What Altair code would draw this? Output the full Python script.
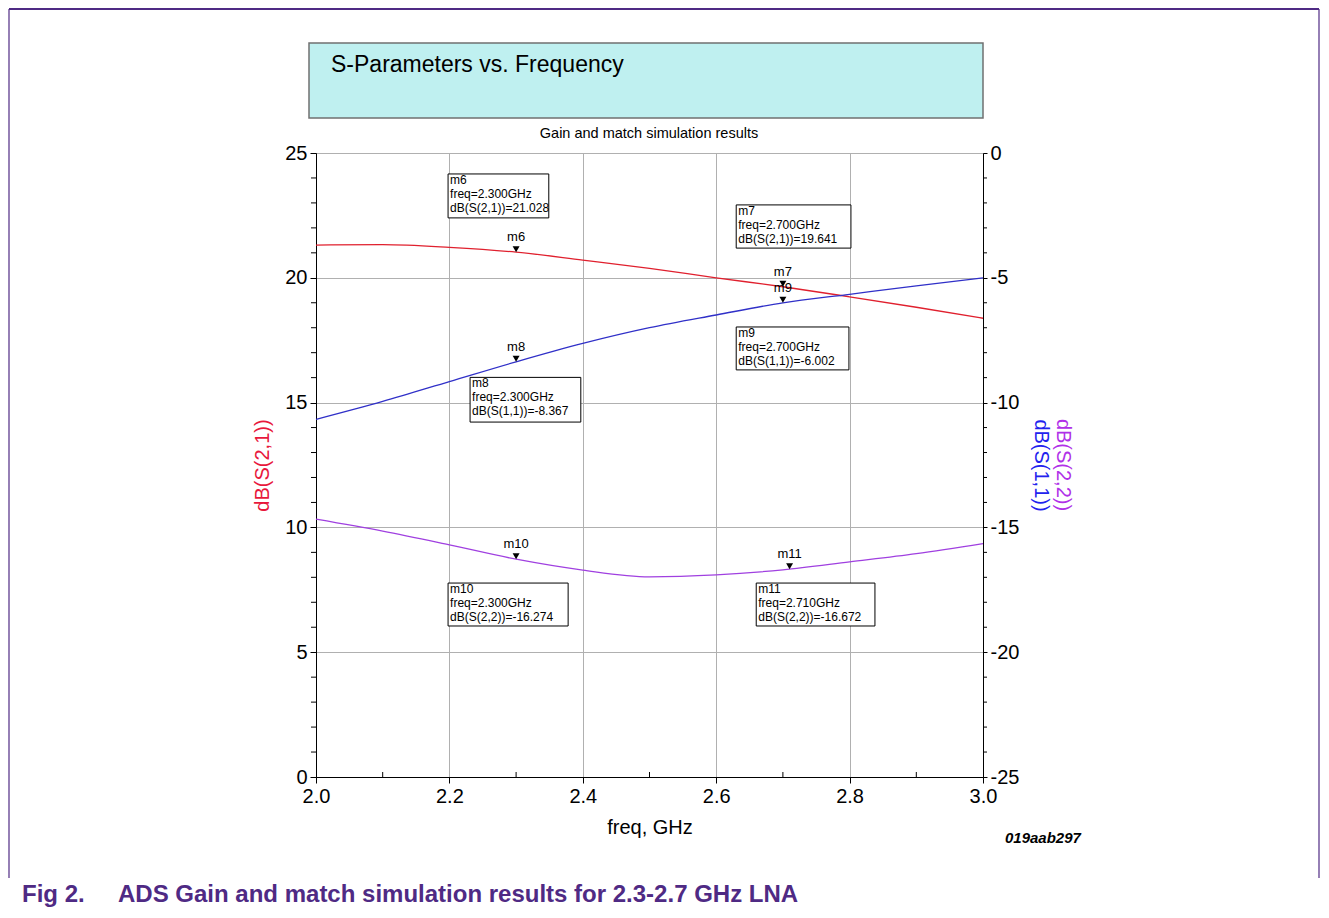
import altair as alt
import pandas as pd

FONT = "Liberation Sans"

# ---- data ----
freq = [2.0, 2.1, 2.2, 2.3, 2.4, 2.5, 2.6, 2.7, 2.8, 2.9, 3.0]
s21 = [21.31, 21.33, 21.22, 21.028, 20.71, 20.38, 20.00, 19.641, 19.24, 18.82, 18.38]
s11 = [-10.67, -9.95, -9.16, -8.367, -7.63, -7.00, -6.49, -6.002, -5.66, -5.32, -5.00]
s22 = [-14.67, -15.15, -15.70, -16.274, -16.71, -16.98, -16.90, -16.70, -16.38, -16.05, -15.65]

x_ticks = [2.0, 2.2, 2.4, 2.6, 2.8, 3.0]
x_minor = [2.1, 2.3, 2.5, 2.7, 2.9]
yl_ticks = [0, 5, 10, 15, 20, 25]
yl_minor = [1, 2, 3, 4, 6, 7, 8, 9, 11, 12, 13, 14, 16, 17, 18, 19, 21, 22, 23, 24]
yr_ticks = [-25, -20, -15, -10, -5, 0]
yr_minor = [-24, -23, -22, -21, -19, -18, -17, -16, -14, -13, -12, -11, -9, -8, -7, -6, -4, -3, -2, -1]

marker_names = ["m6", "m7", "m8", "m9", "m10", "m11"]
marker_freq = [2.300, 2.700, 2.300, 2.700, 2.300, 2.710]
marker_param = ["dB(S(2,1))", "dB(S(2,1))", "dB(S(1,1))", "dB(S(1,1))", "dB(S(2,2))", "dB(S(2,2))"]
marker_value = [21.028, 19.641, -8.367, -6.002, -16.274, -16.672]
marker_side = ["left", "left", "right", "right", "right", "right"]

# marker readout boxes (freq / left-axis dB units)
box_x1 = [2.198, 2.630, 2.231, 2.630, 2.198, 2.660]
box_x2 = [2.349, 2.802, 2.397, 2.799, 2.378, 2.838]
box_top = [24.16, 22.92, 16.01, 18.03, 7.77, 7.77]
box_bot = [22.40, 21.19, 14.22, 16.31, 6.05, 6.05]

RED = "#e0202e"
BLUE = "#3030c8"
PURPLE = "#a040e0"
FRAME = "#4f2a84"
GRID = "#b0b0b0"

# ---- tables ----
df21 = pd.DataFrame({"freq": freq, "val": s21})
df11 = pd.DataFrame({"freq": freq, "val": s11})
df22 = pd.DataFrame({"freq": freq, "val": s22})
dfm = pd.DataFrame({"name": marker_names, "freq": marker_freq, "val": marker_value, "side": marker_side})
dfm_l = dfm[dfm.side == "left"]
dfm_r = dfm[dfm.side == "right"]
dfb = pd.DataFrame({
    "x1": box_x1, "x2": box_x2, "yt": box_top, "yb": box_bot,
    "label": [f"{n}\nfreq={f:.3f}GHz\n{p}={v:.3f}" for n, f, p, v in
              zip(marker_names, marker_freq, marker_param, marker_value)],
})
one = pd.DataFrame({"a": [0]})

xscale = alt.Scale(domain=[2.0, 3.0], nice=False, zero=False)
xaxis = alt.Axis(values=x_ticks, format=".1f", title="freq, GHz", grid=True, gridColor=GRID,
                 labelFontSize=20, titleFontSize=20, tickSize=6, labelPadding=3, titlePadding=11,
                 domainColor="black", tickColor="black", labelColor="black", titleColor="black",
                 titleFontWeight="normal", labelFont=FONT, titleFont=FONT, labelFlush=False)
ylscale = alt.Scale(domain=[0, 25], nice=False, zero=False)
ylaxis = alt.Axis(values=yl_ticks, orient="left", title="dB(S(2,1))", grid=True, gridColor=GRID,
                  labelFontSize=20, titleFontSize=20, tickSize=6, labelPadding=3, titlePadding=12,
                  domainColor="black", tickColor="black", labelColor="black", titleColor="#e8183c",
                  titleFontWeight="normal", labelFont=FONT, titleFont=FONT)
yrscale = alt.Scale(domain=[-25, 0], nice=False, zero=False)
yraxis = alt.Axis(values=yr_ticks, orient="right", title="dB(S(1,1))", grid=False,
                  labelExpr="'' + datum.value",
                  labelFontSize=20, titleFontSize=20, tickSize=4, labelPadding=3, titlePadding=12,
                  domainColor="black", tickColor="black", labelColor="black", titleColor="#2222ee",
                  titleFontWeight="normal", labelFont=FONT, titleFont=FONT)


def X(field="freq"):
    return alt.X(f"{field}:Q", scale=xscale, axis=xaxis)


def YL(field="val"):
    return alt.Y(f"{field}:Q", scale=ylscale, axis=ylaxis)


def YR(field="val"):
    return alt.Y(f"{field}:Q", scale=yrscale, axis=yraxis)


# ---- left group (S21 axis) ----
line21 = alt.Chart(df21).mark_line(color=RED, strokeWidth=1.3, interpolate="monotone").encode(x=X(), y=YL())
minor_l = alt.Chart(pd.DataFrame({"v": yl_minor})).mark_rule(color="black").encode(
    y=YL("v"), x=alt.value(-5), x2=alt.value(0))
minor_x = alt.Chart(pd.DataFrame({"f": x_minor})).mark_rule(color="black").encode(
    x=X("f"), y=alt.value(624), y2=alt.value(619))
tri_l = alt.Chart(dfm_l).mark_point(shape="triangle-down", filled=True, color="black", size=48,
                                    opacity=1, yOffset=-3).encode(x=X(), y=YL())
txt_l = alt.Chart(dfm_l).mark_text(fontSize=13, font=FONT, color="black", dy=-15).encode(
    x=X(), y=YL(), text="name:N")
boxes = alt.Chart(dfb).mark_rect(fill="white", stroke="black", strokeWidth=1).encode(
    x=X("x1"), x2="x2", y=YL("yt"), y2="yb")
box_txt = alt.Chart(dfb).mark_text(align="left", baseline="top", dx=2, dy=1, fontSize=12, font=FONT,
                                   color="black", lineBreak="\n", lineHeight=14).encode(
    x=X("x1"), y=YL("yt"), text="label:N")

title_box = alt.Chart(one).mark_rect(fill="#bff0f0", stroke="#707070", strokeWidth=1.5).encode(
    x=alt.value(-7), x2=alt.value(667), y=alt.value(-110), y2=alt.value(-35))
title_txt = alt.Chart(one).mark_text(align="left", baseline="middle", fontSize=23, font=FONT, color="black",
                                     text="S-Parameters vs. Frequency").encode(x=alt.value(15), y=alt.value(-88))
sub_txt = alt.Chart(one).mark_text(align="center", baseline="middle", fontSize=14.5, font=FONT, color="black",
                                   text="Gain and match simulation results").encode(x=alt.value(333), y=alt.value(-19))
code_txt = alt.Chart(one).mark_text(align="left", baseline="middle", fontSize=15, font=FONT, color="black",
                                    fontStyle="italic", fontWeight="bold", text="019aab297").encode(
    x=alt.value(689), y=alt.value(685))
s22_title = alt.Chart(one).mark_text(align="center", baseline="middle", fontSize=20, font=FONT, color="#b030e8",
                                     angle=90, text="dB(S(2,2))").encode(x=alt.value(747), y=alt.value(312))
fig_txt = alt.Chart(one).mark_text(align="left", baseline="middle", fontSize=24, font=FONT, color=FRAME,
                                   fontWeight="bold", text="Fig 2.").encode(x=alt.value(-294), y=alt.value(742))
cap_txt = alt.Chart(one).mark_text(align="left", baseline="middle", fontSize=24, font=FONT, color=FRAME,
                                   fontWeight="bold",
                                   text="ADS Gain and match simulation results for 2.3-2.7 GHz LNA").encode(
    x=alt.value(-198), y=alt.value(742))
frame_top = alt.Chart(one).mark_rule(color=FRAME, strokeWidth=2).encode(
    x=alt.value(-307), x2=alt.value(1003), y=alt.value(-144))
frame_left = alt.Chart(one).mark_rule(color=FRAME, strokeWidth=1.2).encode(
    x=alt.value(-307), y=alt.value(-144), y2=alt.value(725))
frame_right = alt.Chart(one).mark_rule(color=FRAME, strokeWidth=1.2).encode(
    x=alt.value(1003), y=alt.value(-144), y2=alt.value(725))

left_grp = alt.layer(line21, minor_l, minor_x, boxes, box_txt, tri_l, txt_l,
                     title_box, title_txt, sub_txt, code_txt, s22_title, fig_txt, cap_txt,
                     frame_top, frame_left, frame_right)

# ---- right group (S11 / S22 axis) ----
line11 = alt.Chart(df11).mark_line(color=BLUE, strokeWidth=1.3, interpolate="monotone").encode(x=X(), y=YR())
line22 = alt.Chart(df22).mark_line(color=PURPLE, strokeWidth=1.3, interpolate="monotone").encode(x=X(), y=YR())
minor_r = alt.Chart(pd.DataFrame({"v": yr_minor})).mark_rule(color="black").encode(
    y=YR("v"), x=alt.value(667), x2=alt.value(671))
tri_r = alt.Chart(dfm_r).mark_point(shape="triangle-down", filled=True, color="black", size=48,
                                    opacity=1, yOffset=-3).encode(x=X(), y=YR())
txt_r = alt.Chart(dfm_r).mark_text(fontSize=13, font=FONT, color="black", dy=-15).encode(
    x=X(), y=YR(), text="name:N")

right_grp = alt.layer(line11, line22, minor_r, tri_r, txt_r)

chart = alt.layer(left_grp, right_grp).resolve_scale(y="independent").properties(
    width=667, height=624,
    padding={"left": 308, "top": 145, "right": 337, "bottom": 131},
    autosize=alt.AutoSizeParams(type="none"),
    background="white",
).configure_view(stroke="#555555", strokeWidth=1)

chart.save("out.html", embed_options={"renderer": "svg", "actions": False})
